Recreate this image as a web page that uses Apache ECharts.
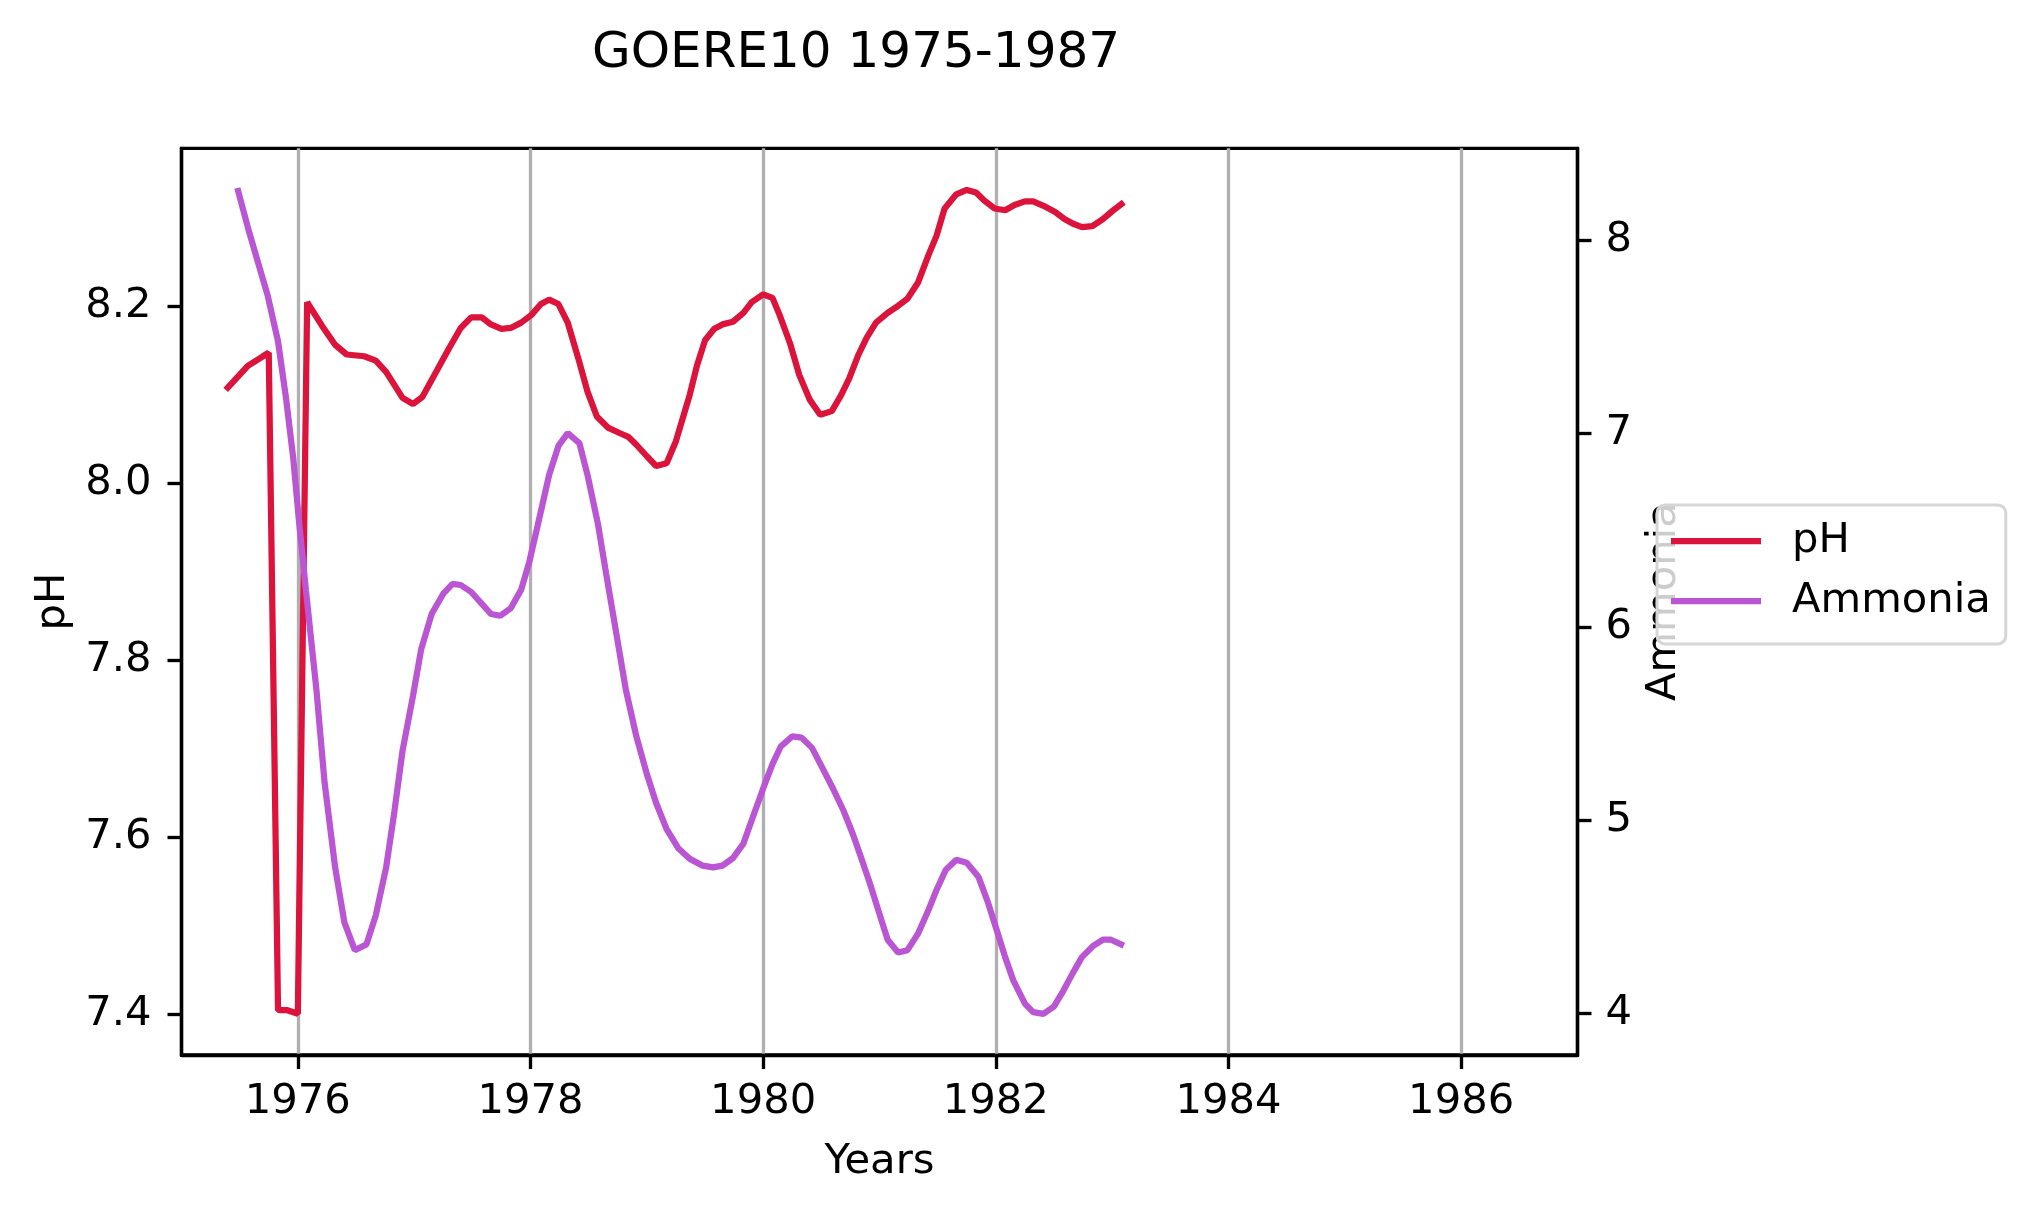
<!DOCTYPE html>
<html>
<head>
<meta charset="UTF-8">
<title>GOERE10 1975-1987</title>
<script src="https://cdn.jsdelivr.net/npm/echarts@6/dist/echarts.min.js"></script>
<style>
  html, body { margin: 0; padding: 0; background: #fff; }
  #main { width: 2036px; height: 1211px; }
</style>
</head>
<body>
<div id="main"></div>
<script type="text/javascript">
	// pH readings (decimal year, value)
	var phYears = [1975.38,1975.57,1975.70,1975.75,1975.83,1975.91,1976.00,1976.08,1976.21,1976.32,
		1976.42,1976.57,1976.67,1976.76,1976.90,1976.99,1977.07,1977.20,1977.30,1977.40,
		1977.49,1977.58,1977.66,1977.75,1977.83,1977.92,1978.01,1978.09,1978.16,1978.24,
		1978.32,1978.41,1978.49,1978.57,1978.67,1978.77,1978.84,1978.91,1979.00,1979.08,
		1979.17,1979.25,1979.37,1979.43,1979.50,1979.58,1979.65,1979.74,1979.83,1979.90,
		1980.00,1980.08,1980.14,1980.23,1980.31,1980.40,1980.49,1980.59,1980.67,1980.74,
		1980.82,1980.89,1980.97,1981.07,1981.16,1981.24,1981.33,1981.42,1981.49,1981.56,
		1981.66,1981.75,1981.83,1981.90,1981.99,1982.08,1982.16,1982.25,1982.32,1982.41,
		1982.51,1982.59,1982.66,1982.74,1982.83,1982.92,1983.01,1983.10];
	var phValues = [8.105,8.132,8.143,8.147,7.404,7.404,7.400,8.204,8.177,8.156,
		8.145,8.143,8.138,8.125,8.096,8.089,8.097,8.128,8.152,8.175,
		8.187,8.187,8.179,8.174,8.175,8.181,8.190,8.202,8.207,8.202,
		8.181,8.141,8.103,8.075,8.062,8.056,8.052,8.043,8.030,8.019,
		8.022,8.047,8.100,8.132,8.161,8.174,8.179,8.182,8.192,8.204,
		8.213,8.209,8.190,8.158,8.122,8.094,8.077,8.081,8.099,8.118,
		8.145,8.164,8.181,8.192,8.200,8.208,8.226,8.257,8.279,8.310,
		8.326,8.331,8.328,8.319,8.310,8.308,8.314,8.318,8.318,8.313,
		8.306,8.298,8.293,8.289,8.290,8.298,8.308,8.317];
	// Ammonia readings (decimal year, value)
	var ammYears = [1975.48,1975.58,1975.66,1975.74,1975.83,1975.90,1975.96,1976.01,1976.07,1976.16,
		1976.23,1976.32,1976.40,1976.49,1976.59,1976.67,1976.76,1976.83,1976.90,1976.99,
		1977.06,1977.15,1977.25,1977.33,1977.40,1977.49,1977.58,1977.66,1977.74,1977.83,
		1977.92,1977.99,1978.07,1978.16,1978.24,1978.32,1978.42,1978.49,1978.58,1978.65,
		1978.74,1978.82,1978.91,1979.00,1979.08,1979.17,1979.27,1979.37,1979.48,1979.57,
		1979.65,1979.74,1979.83,1979.91,1980.00,1980.08,1980.15,1980.25,1980.33,1980.42,
		1980.51,1980.60,1980.69,1980.77,1980.84,1980.92,1980.99,1981.07,1981.16,1981.24,
		1981.33,1981.42,1981.49,1981.57,1981.66,1981.75,1981.85,1981.93,1982.01,1982.08,
		1982.15,1982.25,1982.32,1982.41,1982.50,1982.58,1982.66,1982.74,1982.84,1982.92,
		1982.99,1983.10];
	var ammValues = [8.269,8.044,7.879,7.715,7.475,7.175,6.875,6.546,6.186,5.673,
		5.194,4.759,4.472,4.328,4.358,4.508,4.759,5.044,5.359,5.643,
		5.883,6.066,6.171,6.222,6.216,6.180,6.120,6.066,6.057,6.096,
		6.192,6.336,6.546,6.785,6.935,7.001,6.950,6.785,6.531,6.276,
		5.958,5.673,5.433,5.239,5.089,4.954,4.855,4.800,4.765,4.756,
		4.765,4.804,4.879,5.014,5.164,5.290,5.380,5.433,5.427,5.374,
		5.269,5.164,5.050,4.930,4.810,4.669,4.534,4.382,4.316,4.328,
		4.412,4.534,4.639,4.744,4.795,4.780,4.708,4.579,4.427,4.292,
		4.172,4.052,4.008,3.999,4.037,4.118,4.208,4.292,4.352,4.382,
		4.382,4.352];
	// tick labels
	var yearTicks = [1976,1978,1980,1982,1984,1986];
	var phTicks = [7.4,7.6,7.8,8.0,8.2];
	var ammTicks = [4,5,6,7,8];

	function pairs(xs, ys){
		var out=[];
		for(var i=0;i<xs.length;i++){ out.push([xs[i],ys[i]]); }
		return out;
	}

	var FONT='DejaVu Sans';
	var FS=41.7;
	var LW=3.33;

	var chart = echarts.init(document.getElementById('main'));
	var option = {
		animation: false,
		backgroundColor: '#ffffff',
		textStyle: { fontFamily: FONT, color: '#000' },
		title: {
			text: 'GOERE10 1975-1987'
			,left: 592
			,top: 29
			,padding: 0
			,textStyle: { fontFamily: FONT, fontSize: 50, fontWeight: 'normal', color: '#000' }
		},
		legend: {
			orient: 'vertical'
			,left: 1657
			,top: 505
			,padding: [6, 15, 13, 14]
			,itemGap: 0
			,itemWidth: 90
			,itemHeight: 6.25
			,icon: 'rect'
			,backgroundColor: 'rgba(255,255,255,0.8)'
			,borderColor: '#d6d6d6'
			,borderWidth: 3
			,borderRadius: 8
			,selectedMode: false
			,textStyle: { fontFamily: FONT, fontSize: FS, color: '#000', lineHeight: 50, padding: [10,0,0,26] }
			,data: ['pH','Ammonia']
		},
		grid: {
			left: 181.5, right: 458.5, top: 148.3, bottom: 156,
			show: true, borderColor: '#000', borderWidth: LW, backgroundColor: 'transparent'
		},
		xAxis: {
			type: 'value'
			,min: 1975
			,max: 1987
			,name: 'Years'
			,nameLocation: 'middle'
			,nameGap: 86
			,nameTextStyle: { fontFamily: FONT, fontSize: FS, color: '#000' }
			,axisLine: { show: true, lineStyle: { color: '#000', width: LW } }
			,axisTick: { show: true, length: 14, customValues: yearTicks, lineStyle: { color: '#000', width: LW } }
			,axisLabel: { customValues: yearTicks, margin: 26, fontFamily: FONT, fontSize: FS, color: '#000',
				formatter: function(v){ return String(v); } }
			,splitLine: { show: true, lineStyle: { color: '#b0b0b0', width: LW } }
		},
		yAxis: [{
			type: 'value'
			,position: 'left'
			,min: 7.3534
			,max: 8.378
			,name: 'pH'
			,nameLocation: 'middle'
			,nameRotate: 90
			,nameGap: 106
			,nameTextStyle: { fontFamily: FONT, fontSize: FS, color: '#000' }
			,axisLine: { show: true, lineStyle: { color: '#000', width: LW } }
			,axisTick: { show: true, length: 14, customValues: phTicks, lineStyle: { color: '#000', width: LW } }
			,axisLabel: { customValues: phTicks, margin: 30, fontFamily: FONT, fontSize: FS, color: '#000',
				formatter: function(v){ return v.toFixed(1); } }
			,splitLine: { show: false }
		},{
			type: 'value'
			,position: 'right'
			,min: 3.786
			,max: 8.474
			,name: 'Ammonia'
			,nameLocation: 'middle'
			,nameRotate: 90
			,nameGap: 66
			,nameTextStyle: { fontFamily: FONT, fontSize: FS, color: '#000' }
			,axisLine: { show: true, lineStyle: { color: '#000', width: LW } }
			,axisTick: { show: true, length: 14, customValues: ammTicks, lineStyle: { color: '#000', width: LW } }
			,axisLabel: { customValues: ammTicks, margin: 28, fontFamily: FONT, fontSize: FS, color: '#000',
				formatter: function(v){ return String(v); } }
			,splitLine: { show: false }
		}],
		series: [{
			name: 'pH'
			,type: 'line'
			,yAxisIndex: 0
			,data: pairs(phYears, phValues)
			,showSymbol: false
			,color: '#dc143c'
			,lineStyle: { color: '#dc143c', width: 6.25 }
			,z: 3
		},{
			name: 'Ammonia'
			,type: 'line'
			,yAxisIndex: 1
			,data: pairs(ammYears, ammValues)
			,showSymbol: false
			,color: '#ba55d3'
			,lineStyle: { color: '#ba55d3', width: 6.25 }
			,z: 4
		}]
	};
	chart.setOption(option);
</script>
</body>
</html>
